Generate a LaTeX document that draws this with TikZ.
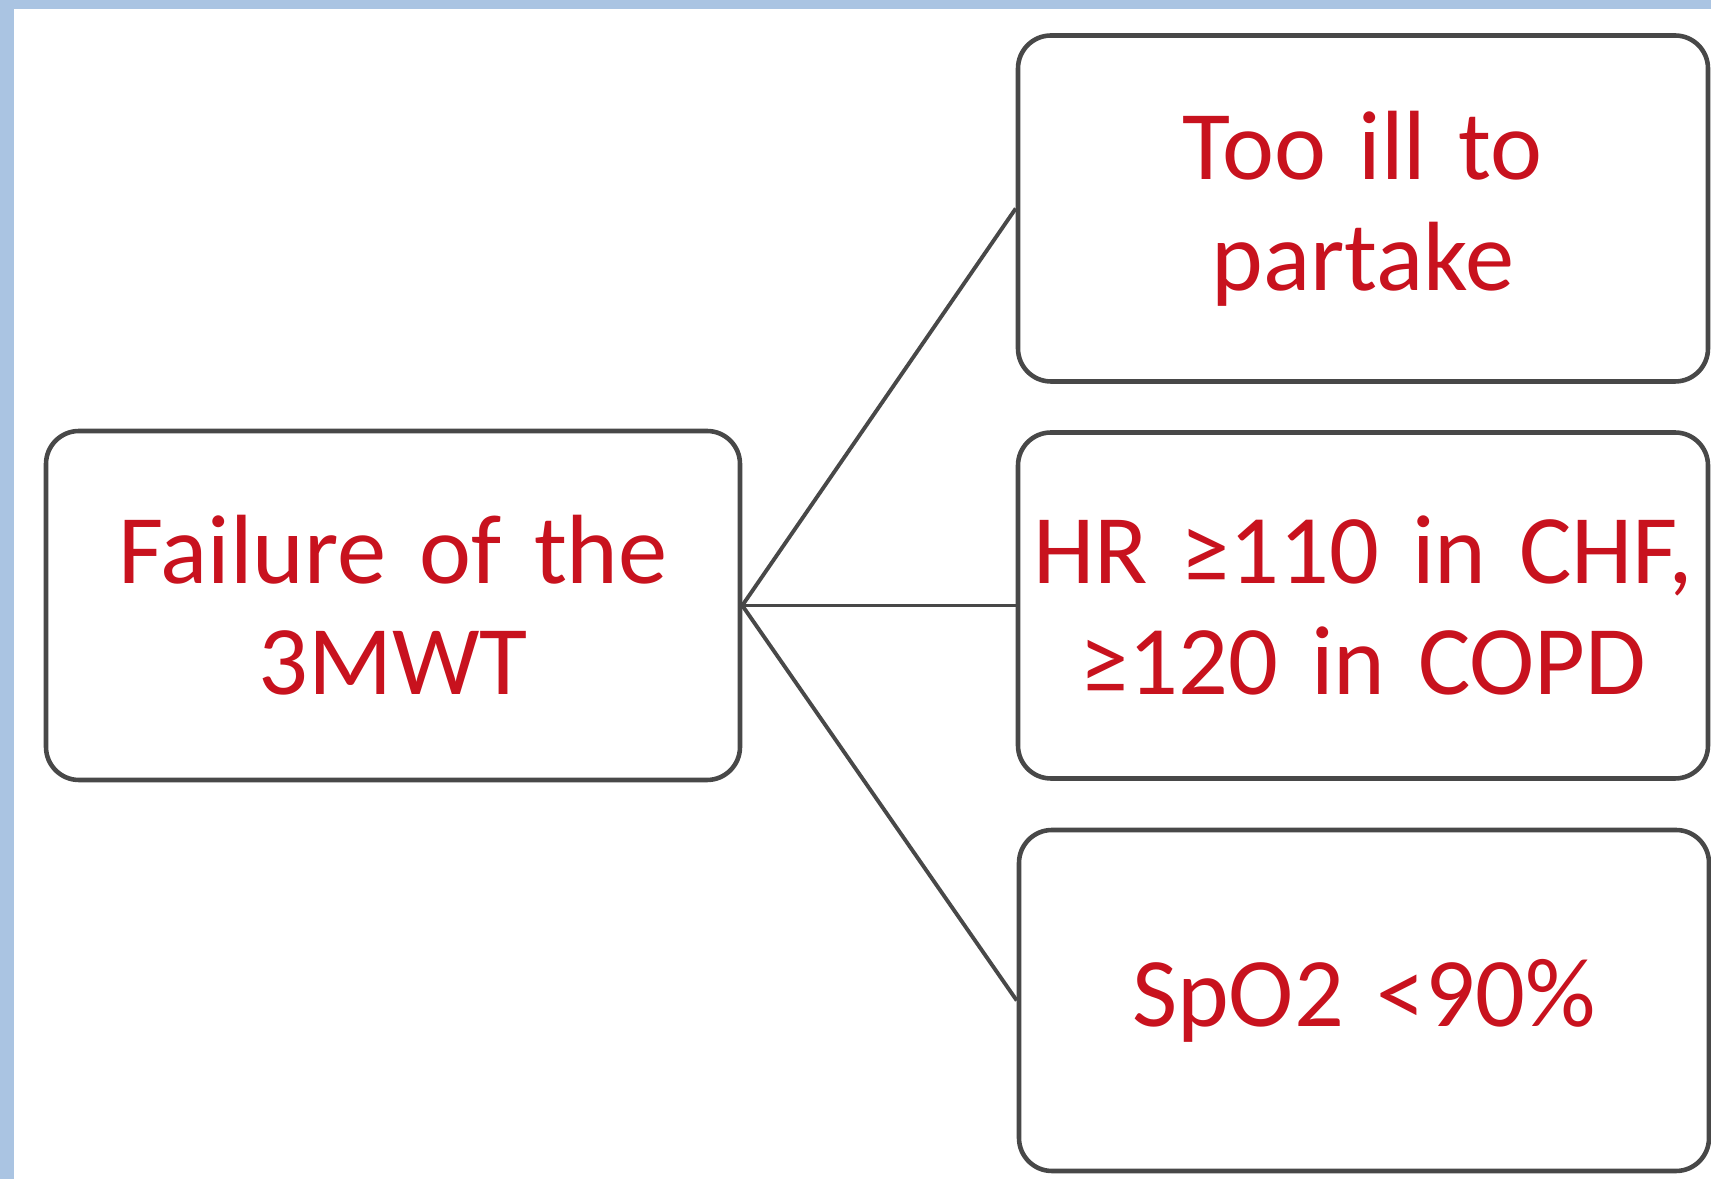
\documentclass[tikz,border=0pt]{standalone}
\usepackage{fontspec}
\setmainfont{Carlito}
\definecolor{frameblue}{RGB}{170,196,226}
\definecolor{textred}{RGB}{200,18,30}
\definecolor{edgegray}{RGB}{72,72,72}

\tikzstyle{reason} = [rectangle, rounded corners=0.33cm, minimum width=6.9cm, minimum height=3.46cm, inner sep=1pt, text centered, text width=6.8cm, draw=edgegray, line width=1.3pt, fill=white, text=textred, font=\fontsize{28}{31.5}\selectfont]
\tikzstyle{branch} = [edgegray, line width=1.1pt]

\begin{document}
\begin{tikzpicture}[node distance=3.95cm]
    \useasboundingbox (0,0) rectangle (17.11,-11.79);
    \fill[frameblue] (0,0) rectangle (17.11,-11.79);
    \fill[white] (0.14,-0.09) rectangle (17.11,-11.79);

    \node (fail) [reason, minimum width=6.94cm, minimum height=3.49cm] at (3.93,-6.055) {Failure of the\\3MWT};
    \node (hr) [reason, right of=fail, xshift=5.75cm] {HR ≥110 in CHF,\\≥120 in COPD};
    \node (ill) [reason, above of=hr, yshift=0.02cm] {Too ill to\\partake};
    \node (spo) [reason, below of=hr, minimum height=3.41cm, xshift=0.01cm] {SpO2 <90\%};

    \draw [branch] (fail.east) -- (ill.west);
    \draw [branch] (fail.east) -- (hr.west);
    \draw [branch] (fail.east) -- (spo.west);

\end{tikzpicture}
\end{document}
